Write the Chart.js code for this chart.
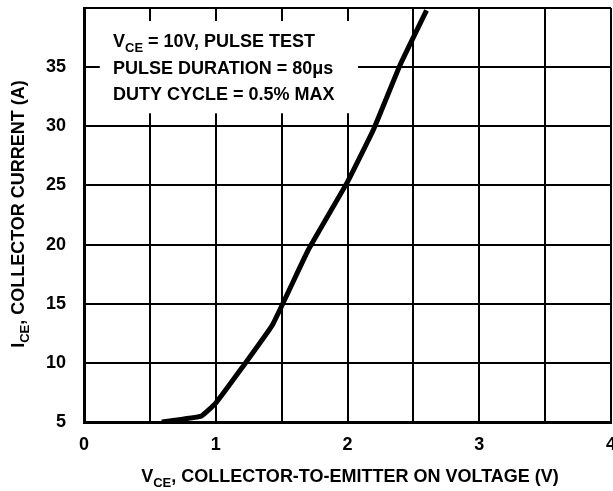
<!DOCTYPE html>
<html>
<head>
<meta charset="utf-8">
<script src="https://cdn.jsdelivr.net/npm/chart.js@4"></script>
<style>
  html, body { margin: 0; padding: 0; background: #fff; }
  #wrap { width: 613px; height: 491px; }
</style>
</head>
<body>
<div id="wrap"><canvas id="ice-chart"></canvas></div>
<script>
// curve
const vceVolts = [0.59, 0.89, 1.0, 1.2, 1.43, 1.7, 2.0, 2.2, 2.4, 2.6];
const iceAmps = [5, 5.5, 6.6, 9.6, 13.2, 19.5, 25.3, 29.8, 35.2, 39.8];
const xTickLabels = ["0", "1", "2", "3", "4"];
const yTickLabels = ["5", "10", "15", "20", "25", "30", "35"];
const noteLines = ["PULSE DURATION = 80\u03bcs", "DUTY CYCLE = 0.5% MAX"];

const FONT = "'Liberation Sans', Arial, sans-serif";
const BIG = "bold 18px " + FONT;
const SUB = "bold 13px " + FONT;

// text box and axis titles (with subscripts)
const extras = {
  id: "extras",
  beforeDatasetsDraw(chart) {
    const ctx = chart.ctx;
    const x = chart.scales.x, y = chart.scales.y;
    ctx.save();
    ctx.fillStyle = "#fff";
    ctx.fillRect(x.getPixelForValue(0.12), y.getPixelForValue(38.9),
      x.getPixelForValue(2.08) - x.getPixelForValue(0.12),
      y.getPixelForValue(31.1) - y.getPixelForValue(38.9));
    ctx.restore();
  },
  afterDraw(chart) {
    const ctx = chart.ctx;
    const area = chart.chartArea;
    ctx.save();
    ctx.fillStyle = "#000";
    ctx.textBaseline = "alphabetic";
    ctx.textAlign = "left";

    // subscripted text drawn as pieces, starting at x0
    function pieces(parts, x0, y0) {
      let px = x0;
      parts.forEach((t, i) => {
        ctx.font = i === 1 ? SUB : BIG;
        ctx.fillText(t, px, i === 1 ? y0 + 5 : y0);
        px += ctx.measureText(t).width;
      });
      return px - x0;
    }
    function width(parts) {
      let w = 0;
      parts.forEach((t, i) => {
        ctx.font = i === 1 ? SUB : BIG;
        w += ctx.measureText(t).width;
      });
      return w;
    }

    // note in the corner
    const nx = area.left + 29;
    const ny = area.top + 39;
    pieces(["V", "CE", " = 10V, PULSE TEST"], nx, ny);
    ctx.font = BIG;
    noteLines.forEach((t, i) => {
      ctx.fillText(t, nx, ny + 26.7 * (i + 1));
    });

    const xt = ["V", "CE", ", COLLECTOR-TO-EMITTER ON VOLTAGE (V)"];
    pieces(xt, 350 - width(xt) / 2, 482);

    const yt = ["I", "CE", ", COLLECTOR CURRENT (A)"];
    ctx.translate(24, 214);
    ctx.rotate(-Math.PI / 2);
    pieces(yt, -width(yt) / 2, 0);
    ctx.restore();
  }
};

new Chart(document.getElementById("ice-chart"), {
  type: "line",
  data: {
    datasets: [{
      data: vceVolts.map((v, i) => ({ x: v, y: iceAmps[i] })),
      borderColor: "#000",
      borderWidth: 5,
      pointRadius: 0,
      tension: 0.1,
      borderCapStyle: "butt",
      borderJoinStyle: "round"
    }]
  },
  options: {
    responsive: true,
    maintainAspectRatio: false,
    animation: false,
    events: [],
    layout: { padding: { top: 8, right: 2, left: 0, bottom: 0 } },
    plugins: { legend: { display: false }, tooltip: { enabled: false } },
    scales: {
      x: {
        type: "linear",
        min: 0, max: 4,
        grid: { color: "#000", lineWidth: 2, drawTicks: false },
        border: { color: "#000", width: 3 },
        ticks: {
          stepSize: 0.5,
          padding: 12,
          color: "#000",
          font: { family: FONT, size: 18, weight: "bold" },
          maxRotation: 0,
          autoSkip: false,
          callback: (v) => Number.isInteger(v) ? xTickLabels[v] : ""
        },
        afterFit(s) { s.height = 69; s.paddingLeft = 0; s.paddingRight = 0; }
      },
      y: {
        min: 5, max: 40,
        grid: { color: "#000", lineWidth: 2, drawTicks: false },
        border: { color: "#000", width: 3 },
        ticks: {
          stepSize: 5,
          padding: 18,
          color: "#000",
          font: { family: FONT, size: 18, weight: "bold" },
          callback: (v) => yTickLabels[(v - 5) / 5] || ""
        },
        afterFit(s) { s.width = 84; s.paddingTop = 0; s.paddingBottom = 0; }
      }
    }
  },
  plugins: [extras]
});
</script>
</body>
</html>
